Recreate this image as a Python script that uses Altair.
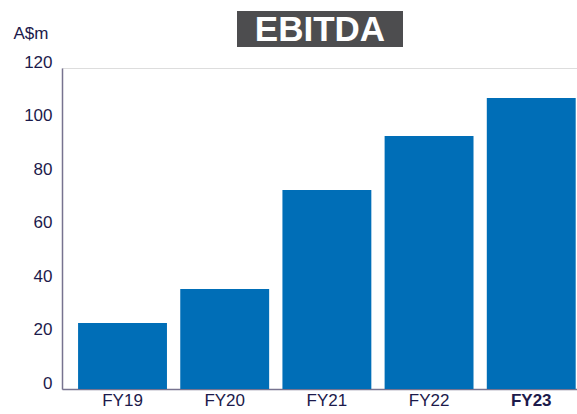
import altair as alt
import pandas as pd

years = ["FY19", "FY20", "FY21", "FY22", "FY23"]
ebitda = [24.7, 37.4, 74.4, 94.6, 108.8]
y_ticks = [0, 20, 40, 60, 80, 100, 120]
title_text = "EBITDA"
unit_text = "A$m"

df = pd.DataFrame({"year": years, "ebitda": ebitda})
one = pd.DataFrame({"t": [title_text], "u": [unit_text]})

axis_color = "#77738F"
label_color = "#1C1A4B"

bars = alt.Chart(df).mark_bar(color="#006EB7").encode(
    x=alt.X(
        "year:N",
        sort=years,
        title=None,
        scale=alt.Scale(paddingInner=0.13, paddingOuter=0.085, align=0.925),
        axis=alt.Axis(
            labelAngle=0,
            ticks=False,
            domainColor=axis_color,
            domainWidth=1.5,
            labelColor=label_color,
            labelFont="Liberation Sans",
            labelFontSize=17,
            labelPadding=3,
            labelFontWeight={"condition": {"test": "datum.value === 'FY23'", "value": "bold"}, "value": "normal"},
        ),
    ),
    y=alt.Y(
        "ebitda:Q",
        title=None,
        scale=alt.Scale(domain=[0, 120], nice=False),
        axis=alt.Axis(
            values=y_ticks,
            grid=False,
            ticks=False,
            domainColor=axis_color,
            domainWidth=1.5,
            labelColor=label_color,
            labelFont="Liberation Sans",
            labelFontSize=17,
            labelPadding=10,
            labelOffset=-6,
            labelFlush=False,
            labelOverlap=False,
        ),
    ),
)

box = alt.Chart(one).mark_rect(color="#4D4D4F").encode(
    x=alt.value(175), x2=alt.value(341), y=alt.value(-57), y2=alt.value(-21)
)
title = alt.Chart(one).mark_text(
    color="white", font="Liberation Sans", fontSize=35, fontWeight="bold",
    align="center", baseline="middle"
).encode(text="t:N", x=alt.value(258), y=alt.value(-38))
unit = alt.Chart(one).mark_text(
    color=label_color, font="Liberation Sans", fontSize=17,
    align="center", baseline="middle"
).encode(text="u:N", x=alt.value(-31), y=alt.value(-34))

chart = alt.layer(bars, box, title, unit).properties(
    width=515,
    height=321,
    autosize="none",
    padding={"left": 62, "top": 68, "right": 0, "bottom": 25},
).configure_view(stroke=None).configure(background="white")

chart.save("out.html", embed_options={"renderer": "svg", "actions": False})
